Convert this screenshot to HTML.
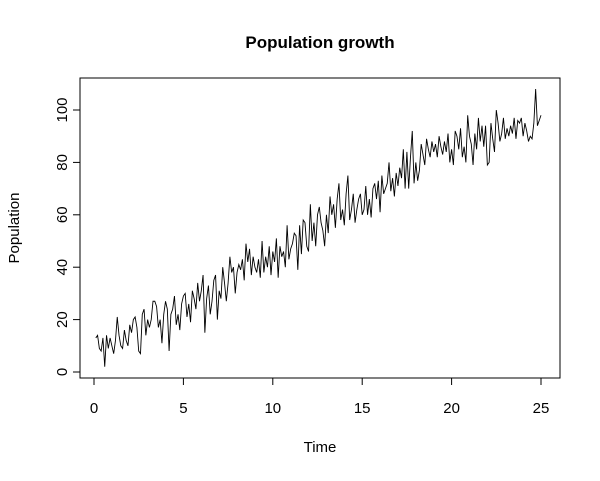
<!DOCTYPE html>
<html><head><meta charset="utf-8"><style>
body{margin:0;background:#fff;}
svg text{font-family:"Liberation Sans",Arial,sans-serif;fill:#000;}
</style></head><body>
<svg id="chart" width="600" height="476" xmlns="http://www.w3.org/2000/svg">
<text x="320" y="48" font-size="17" font-weight="bold" text-anchor="middle">Population growth</text>
<rect x="80" y="78" width="480" height="300" fill="none" stroke="#000" stroke-width="1"/>
<g id="xaxis"></g>
<g id="yaxis"></g>
<text x="320" y="452" font-size="15" text-anchor="middle">Time</text>
<text x="19" y="228" font-size="15" text-anchor="middle" transform="rotate(-90 19 228)">Population</text>
<path id="series" fill="none" stroke="#000" stroke-width="0.9"/>
</svg>
<script>
const xTicks=[0,5,10,15,20,25];
const yTicks=[0,20,40,60,80,100];
const population=[13,14,9,8,13,2,14,9,13,10,7,12,21,14,10,9,16,12,10,18,15,20,21,17,8,
7,22,24,14,20,17,20,27,27,25,17,20,11,22,27,24,8,22,24,29,18,22,16,26,29,
30,21,26,19,31,28,24,34,27,31,37,15,28,33,22,27,35,37,20,31,28,40,34,27,34,
44,38,40,30,38,41,39,43,35,49,42,47,37,44,40,38,43,36,50,38,44,40,48,37,46,
42,51,36,48,44,46,40,56,43,47,49,53,52,39,56,45,58,57,48,46,64,50,57,48,60,
63,57,54,48,60,53,67,60,64,55,66,72,58,62,56,68,75,58,62,68,57,62,66,68,60,
62,71,60,66,59,70,72,66,73,61,75,68,70,72,80,69,74,67,76,71,78,74,85,70,84,
70,82,92,72,80,73,77,87,83,79,89,85,82,88,84,87,82,90,86,83,88,84,91,80,85,
79,92,90,85,93,82,86,80,98,90,87,79,91,85,97,88,94,86,94,79,80,95,89,84,100,
95,88,91,97,89,93,90,94,91,97,89,96,95,97,90,95,92,88,90,89,95,108,94,96,98];
const timeStep=0.1;
const NS="http://www.w3.org/2000/svg";
function sx(t){return 94+t*(541-94)/25;}
function sy(v){return 372-v*(372-110)/100;}
const xa=document.getElementById('xaxis'),ya=document.getElementById('yaxis');
function mk(tag,attrs,parent){const e=document.createElementNS(NS,tag);for(const k in attrs)e.setAttribute(k,attrs[k]);parent.appendChild(e);return e;}
mk('line',{x1:sx(xTicks[0]),x2:sx(xTicks[xTicks.length-1]),y1:378,y2:378,stroke:'#000'},xa);
xTicks.forEach(t=>{
  const l=mk('line',{x1:sx(t),x2:sx(t),y1:378,y2:385,stroke:'#000'},xa);
  
  
  const tx=mk('text',{x:sx(t),y:413,'font-size':15,'text-anchor':'middle'},xa);
  tx.textContent=t;
  
  
});
mk('line',{x1:80,x2:80,y1:sy(yTicks[0]),y2:sy(yTicks[yTicks.length-1]),stroke:'#000'},ya);
yTicks.forEach(v=>{
  const l=mk('line',{x1:73,x2:80,y1:sy(v),y2:sy(v),stroke:'#000'},ya);
  
  
  const tx=mk('text',{x:67,y:sy(v),'font-size':15,'text-anchor':'middle',transform:`rotate(-90 67 ${sy(v)})`},ya);
  tx.textContent=v;
  
  
});
let d='';
population.forEach((v,i)=>{const t=(i+1)*timeStep;d+=(i?'L':'M')+sx(t).toFixed(2)+','+sy(v).toFixed(2);});
document.getElementById('series').setAttribute('d',d);
</script>
</body></html>
